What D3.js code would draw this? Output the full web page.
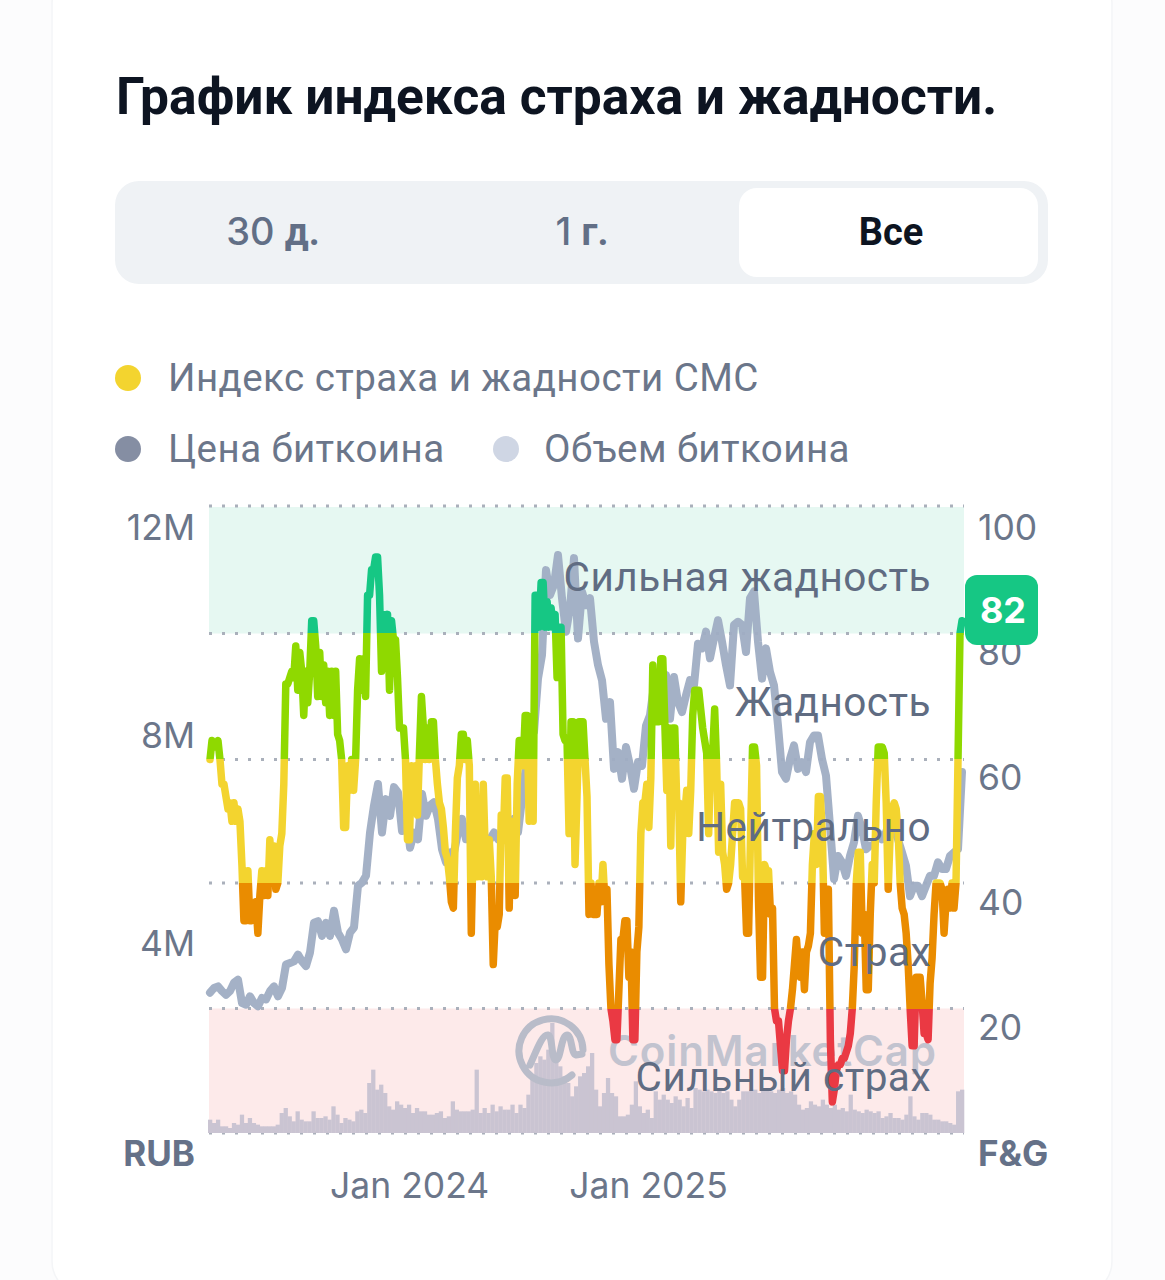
<!DOCTYPE html>
<html><head><meta charset="utf-8">
<script src="https://cdn.jsdelivr.net/npm/d3@7"></script>
<style>
html,body{margin:0;padding:0;background:#fcfcfd;}
svg{display:block;font-family:Inter,"Noto Sans",sans-serif;}
.cy{font-family:Roboto,"Noto Sans",sans-serif;}
</style></head><body><svg id="c" width="1165" height="1280"></svg>
<script>
const fgValues=[60,63,62,62,63,60,56,56,54,52,53,50,53,50,52,50,43,34,34,42,34,34,35,37,32,38,42,38,42,38,47,43,46,39,40,46,48,56,72,72,73,74,73,78,71,77,74,67,74,69,74,82,82,78,70,77,70,75,69,74,67,74,67,74,64,63,60,49,49,59,55,60,55,60,71,76,71,76,70,86,86,90,90,92,92,86,74,83,76,83,71,82,79,79,73,65,65,65,60,47,47,59,53,59,51,61,70,65,60,65,60,66,66,60,56,53,52,49,45,44,41,37,36,48,57,59,64,64,60,63,59,32,48,56,41,48,41,56,45,41,47,41,27,34,33,35,51,47,57,57,36,50,43,38,56,63,63,59,67,67,50,64,50,86,86,81,88,88,81,85,81,84,81,83,73,81,81,64,63,63,48,66,66,43,54,66,66,66,60,54,35,
40,35,35,35,40,37,43,37,39,27,20,18,15,15,23,31,31,34,34,25,29,15,15,29,33,48,53,53,56,49,57,75,66,66,66,76,76,66,55,65,46,65,65,53,53,37,48,51,55,48,55,67,71,71,71,68,65,63,61,48,61,61,68,59,45,56,45,43,39,40,43,48,53,53,53,52,41,41,32,32,48,62,62,59,37,25,25,43,42,42,35,36,20,18,18,14,10,10,15,18,20,23,27,31,27,25,29,23,29,30,32,43,48,43,54,54,48,32,39,39,15,5,7,10,11,11,12,12,13,14,16,20,27,40,45,45,32,35,23,23,35,43,40,53,62,62,62,61,53,39,48,52,53,52,48,40,36,35,32,27,20,14,14,25,25,25,21,16,16,15,24,28,35,40,40,40,39,32,37,39,36,40,36,40,60,80,82];
const priceValues=[2.69,2.78,2.81,2.72,2.65,2.72,2.88,2.94,2.49,2.46,2.62,2.49,2.43,2.59,2.56,2.72,2.81,2.62,2.78,3.23,3.26,3.29,3.42,3.29,3.20,3.46,4.03,4.06,3.78,4.03,3.78,4.26,3.84,3.71,3.52,3.84,3.94,4.74,4.80,4.93,5.76,6.28,6.69,5.76,6.40,6.08,6.63,6.53,5.79,6.21,5.47,5.76,5.63,6.50,6.08,6.28,6.34,6.02,5.44,5.19,5.38,5.38,5.76,6.02,5.63,5.76,5.63,5.51,5.51,5.44,5.63,5.76,5.63,5.70,5.76,5.76,6.02,5.76,6.40,7.04,7.56,7.69,8.71,9.16,10.79,10.31,10.51,11.08,10.25,9.61,10.06,11.02,9.48,10.38,10.12,10.25,9.42,8.97,
8.68,7.94,8.26,6.98,7.30,6.79,7.40,7.04,6.60,7.11,7.04,7.81,8.01,8.58,8.33,8.58,8.78,7.94,8.74,8.26,8.07,8.39,8.68,8.58,9.38,9.29,9.61,9.10,9.48,9.83,9.42,8.97,8.58,9.74,9.80,9.74,9.22,10.25,10.38,9.42,8.71,9.29,8.84,8.58,7.81,6.92,6.79,7.17,7.43,6.98,7.11,6.92,7.49,7.62,7.62,7.17,6.85,5.89,4.87,5.31,5.19,4.93,5.31,5.57,6.08,5.83,5.44,5.51,5.51,5.76,5.63,5.76,6.02,5.83,5.63,5.38,5.12,4.54,4.74,4.74,4.54,4.74,4.93,4.93,5.19,5.06,5.06,5.31,5.38,5.44,6.92];
const volumeValues=[40,30,40,20,20,15,30,25,55,30,45,30,25,20,20,20,20,25,60,75,50,35,65,40,35,35,65,45,45,50,40,80,55,30,45,40,35,65,70,60,150,190,130,145,120,80,70,95,85,75,85,60,75,65,65,55,55,60,65,45,50,95,70,65,65,65,70,190,60,75,60,85,65,80,70,70,85,60,85,75,115,170,210,230,220,250,330,220,200,170,150,110,140,170,180,200,240,130,80,120,165,120,110,50,50,55,85,155,80,60,70,45,125,100,115,100,90,110,100,80,105,75,135,130,125,130,125,120,130,120,125,100,80,100,125,125,130,130,120,135,130,125,120,130,135,120,125,115,85,70,75,95,85,80,100,85,75,85,70,75,65,115,70,65,60,70,65,60,65,45,50,60,45,45,40,55,110,50,40,60,60,55,40,40,35,35,30,25,125,130];
const fgTicks=[100,80,60,40,20];
const gridLevels=[100,80,60,40,20,0];
const priceTicks=[12,8,4];
const timeTicks=["2024-01-01","2025-01-01"];
const zones=[{from:80,to:100,name:"Сильная жадность",color:"#16c784"},{from:60,to:80,name:"Жадность",color:"#8fd900"},{from:40,to:60,name:"Нейтрально",color:"#f3d42f"},{from:20,to:40,name:"Страх",color:"#ea8c00"},{from:0,to:20,name:"Сильный страх",color:"#ea3943"}];
const startDate=new Date(2023,2,2), totalDays=1152;

const svg=d3.select("#c");
const TEXT="#6b768a";
// card
svg.append("rect").attr("x",52).attr("y",-30).attr("width",1060).attr("height",1325).attr("rx",34).attr("fill","#fff").attr("stroke","#f4f5f7").attr("stroke-width",1.5);
svg.append("text").attr("class","cy").attr("x",116).attr("y",114).attr("font-size",51.5).attr("font-weight",700).attr("fill","#0d1421").text("График индекса страха и жадности.");
// tabs
svg.append("rect").attr("x",115).attr("y",181).attr("width",933).attr("height",103).attr("rx",24).attr("fill","#eff2f5");
svg.append("rect").attr("x",739).attr("y",188).attr("width",299).attr("height",89).attr("rx",18).attr("fill","#fff");
[["30 ","д.",273],["1 ","г.",582]].forEach(t=>{
 const e=svg.append("text").attr("x",t[2]).attr("y",245).attr("text-anchor","middle").attr("font-size",38).attr("fill","#626f86");
 e.append("tspan").attr("font-weight",500).text(t[0]);
 e.append("tspan").attr("font-family","Roboto").attr("font-weight",700).text(t[1]);
});
svg.append("text").attr("class","cy").attr("x",891).attr("y",245).attr("text-anchor","middle").attr("font-size",38).attr("font-weight",700).attr("fill","#0d1421").text("Все");
// legend
[[128,378,"#f3d42f",168,"Индекс страха и жадности СМС"],[128,449,"#858ea3",168,"Цена биткоина"],[506,449,"#cfd6e4",544,"Объем биткоина"]].forEach(l=>{
 svg.append("circle").attr("cx",l[0]).attr("cy",l[1]).attr("r",13).attr("fill",l[2]);
 svg.append("text").attr("class","cy").attr("x",l[3]).attr("y",l[1]+13).attr("font-size",38.5).attr("letter-spacing",0.45).attr("fill",TEXT).text(l[4]);
});
// scales
const L=209,R=964,B=1133;
const x=d3.scaleTime().domain([startDate,d3.timeDay.offset(startDate,totalDays)]).range([210,962]);
const yF=d3.scaleLinear().domain([0,20,40,60,80,100]).range([B,1008.5,883,759.5,633.5,506]);
const yP=d3.scaleLinear().domain([0,12]).range([B,507]);
const yV=d3.scaleLinear().domain([0,1878]).range([B,507]);
const yFLabel=d3.scaleLinear().domain([0,100]).range([1153,528]);
const yPLabel=d3.scaleLinear().domain([0,12]).range([1152,528]);
const dateAt=(i,n)=>new Date(startDate.getTime()+i/(n-1)*totalDays*864e5);
// bands
[zones[0],zones[4]].forEach((z,i)=>svg.append("rect").attr("x",L).attr("width",R-L).attr("y",yF(z.to)+(i?0:1)).attr("height",yF(z.from)-yF(z.to)-(i?0:1)).attr("fill",i?"#fdeaea":"#e6f8f2"));
// grid
svg.append("g").selectAll("line").data(gridLevels).join("line").attr("x1",L).attr("x2",R).attr("y1",d=>yF(d)).attr("y2",d=>yF(d)+0).attr("stroke","#aab0bb").attr("stroke-width",3).attr("stroke-dasharray","3 10");
// volume
const bw=752/(volumeValues.length-1);
svg.append("g").selectAll("rect").data(volumeValues).join("rect")
 .attr("x",(d,i)=>x(dateAt(i,volumeValues.length))-bw/2).attr("width",bw+0.3)
 .attr("y",d=>yV(d)).attr("height",d=>B-yV(d)).attr("fill","#cac4d2");
// watermark
svg.append("path").attr("fill","none").attr("stroke","#b9bcc9").attr("stroke-width",7).attr("stroke-linecap","round").attr("stroke-linejoin","round")
 .attr("d","M572 1075 A32 32 0 1 1 583 1050 M530 1065 C 536 1052 542 1034 548 1035 C 553 1036 551 1060 556 1060 C 561 1060 561 1035 567 1035 C 572 1035 571 1054 576 1055 L582 1054");
svg.append("text").attr("x",608).attr("y",1066).attr("font-size",42).attr("font-weight",600).attr("fill","#c2c3cf").attr("textLength",328).text("CoinMarketCap");
// price
svg.append("path").datum(priceValues).attr("fill","none").attr("stroke","#9fadc3").attr("stroke-opacity",.95).attr("stroke-width",8).attr("stroke-linejoin","round").attr("stroke-linecap","round")
 .attr("d",d3.line().x((d,i)=>x(dateAt(i,priceValues.length))).y(d=>yP(d)));
// F&G gradient
const grad=svg.append("defs").append("linearGradient").attr("id","fg").attr("gradientUnits","userSpaceOnUse").attr("x1",0).attr("x2",0).attr("y1",yF(100)).attr("y2",yF(0));
const off=v=>(yF(v)-yF(100))/(yF(0)-yF(100));
zones.forEach(z=>{
 grad.append("stop").attr("offset",off(z.to)).attr("stop-color",z.color);
 grad.append("stop").attr("offset",off(z.from)).attr("stop-color",z.color);
});
svg.append("path").datum(fgValues).attr("fill","none").attr("stroke","url(#fg)").attr("stroke-width",7.5).attr("stroke-linejoin","round").attr("stroke-linecap","round")
 .attr("d",d3.line().x((d,i)=>x(dateAt(i,fgValues.length))).y(d=>yF(d)));
// zone labels
svg.append("g").selectAll("text").data(zones).join("text").attr("class","cy").attr("x",931).attr("y",z=>yFLabel(z.to)+63).attr("text-anchor","end").attr("font-size",40.5).attr("letter-spacing",0.5).attr("fill","#606c82").text(z=>z.name);
// axes
const style=g=>{g.select(".domain").remove();g.selectAll("line").remove();g.selectAll("text").attr("font-family","Inter").attr("font-size",35.5).attr("fill",TEXT);};
svg.append("g").attr("transform","translate(978,0)").call(d3.axisRight(yFLabel).tickValues(fgTicks).tickSize(0).tickPadding(0)).call(style);
svg.append("g").attr("transform","translate(195,0)").call(d3.axisLeft(yPLabel).tickValues(priceTicks).tickFormat(d=>d+"M").tickSize(0).tickPadding(0)).call(style);
svg.append("g").attr("transform","translate(0,1173)").call(d3.axisBottom(x).tickValues(timeTicks.map(s=>new Date(s+"T00:00:00"))).tickFormat(d3.timeFormat("%b %Y")).tickSize(0).tickPadding(0)).call(style);
svg.append("text").attr("x",195).attr("y",1166).attr("text-anchor","end").attr("font-size",35).attr("font-weight",700).attr("fill","#657188").text("RUB");
svg.append("text").attr("x",978).attr("y",1166).attr("font-size",35).attr("font-weight",700).attr("fill","#657188").text("F&G");
// badge
svg.append("rect").attr("x",965).attr("y",575).attr("width",73).attr("height",70).attr("rx",12).attr("fill","#16c784");
svg.append("text").attr("x",1003).attr("y",623).attr("text-anchor","middle").attr("font-size",36).attr("font-weight",700).attr("fill","#fff").text(fgValues[fgValues.length-1]);
</script></body></html>
